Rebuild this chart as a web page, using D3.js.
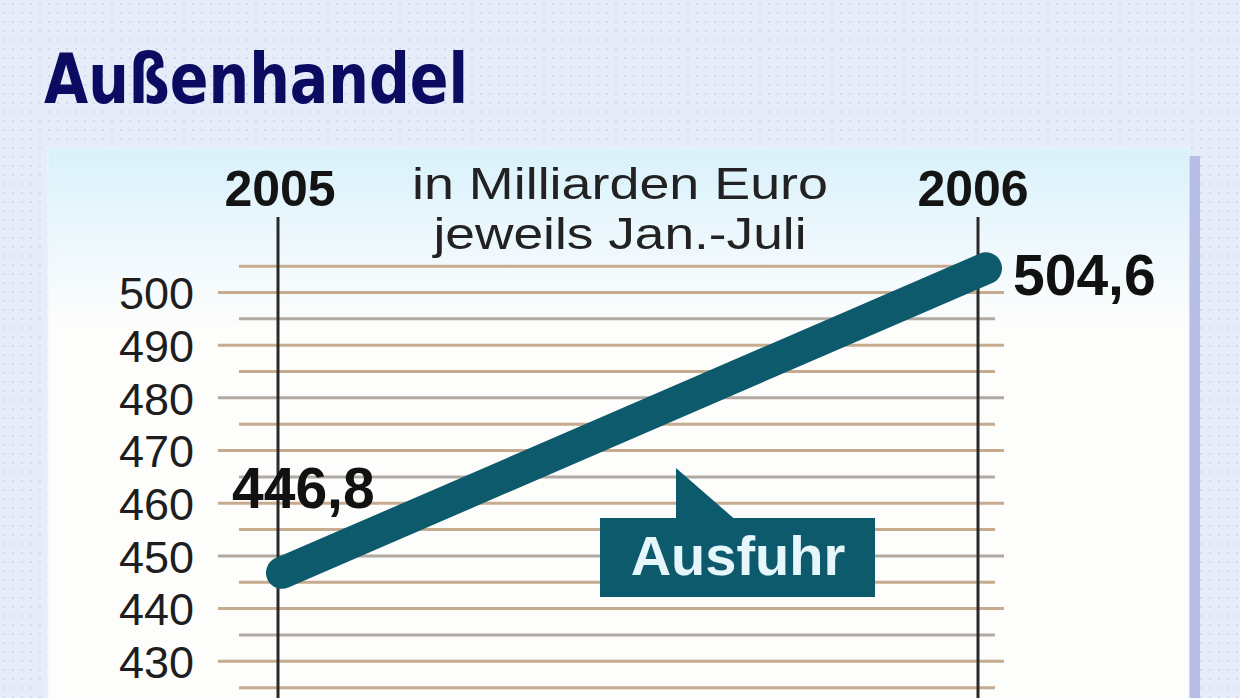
<!DOCTYPE html>
<html>
<head>
<meta charset="utf-8">
<script src="https://cdn.jsdelivr.net/npm/d3@7"></script>
<style>
 html, body { margin: 0; padding: 0; background: #e6ecf8; }
 svg { display: block; }
</style>
</head>
<body>
<script>

// data
var years      = ['2005', '2006']
var ausfuhr    = [446.8, 504.6]
var valueLabel = ['446,8', '504,6']
var tickValues = [500, 490, 480, 470, 460, 450, 440, 430]
var gridValues = [420, 425, 430, 435, 440, 445, 450, 455, 460, 465, 470, 475, 480, 485, 490, 495, 500, 505]
var title      = 'Außenhandel'
var subtitle   = ['in Milliarden Euro', 'jeweils Jan.-Juli']
var seriesName = 'Ausfuhr'

var width  = 1240
var height = 698
var teal   = '#0d5a6d'

var svg = d3.select('body').append('svg')
  .attr('width', width)
  .attr('height', height)

var defs = svg.append('defs')

// dotted background
var pat = defs.append('pattern')
  .attr('id', 'dots').attr('width', 9).attr('height', 9)
  .attr('patternUnits', 'userSpaceOnUse')
pat.append('rect').attr('width', 9).attr('height', 9).attr('fill', '#e6ecf8')
pat.append('rect').attr('x', 3).attr('y', 3).attr('width', 2).attr('height', 2).attr('fill', '#d3dbee')

var grad = defs.append('linearGradient')
  .attr('id', 'panel').attr('x1', 0).attr('y1', 0).attr('x2', 0).attr('y2', 1)
grad.append('stop').attr('offset', '0%').attr('stop-color', '#d9f1fb')
grad.append('stop').attr('offset', '22%').attr('stop-color', '#f3fafd')
grad.append('stop').attr('offset', '32%').attr('stop-color', '#fdfdfb')
grad.append('stop').attr('offset', '100%').attr('stop-color', '#fdfdfb')

svg.append('rect').attr('width', width).attr('height', height).attr('fill', 'url(#dots)')

// panel + right shadow
svg.append('rect').attr('x', 1188).attr('y', 156).attr('width', 12).attr('height', 560).attr('fill', '#b6bee6')
svg.append('rect').attr('x', 48).attr('y', 148).attr('width', 1141).attr('height', 560)
  .attr('fill', 'url(#panel)').attr('stroke', '#eef3fb').attr('stroke-width', 1)

// title
svg.append('text')
  .attr('x', 44).attr('y', 103)
  .attr('textLength', 424).attr('lengthAdjust', 'spacingAndGlyphs')
  .style('font-family', '"DejaVu Sans Condensed", "DejaVu Sans", sans-serif')
  .style('font-weight', 'bold').style('font-size', '70px')
  .style('fill', '#0b0b62')
  .text(title)

// scales
var x = d3.scalePoint().domain(years).range([278, 978])
var y = d3.scaleLinear().domain([440, 500]).range([608.6, 292.5])

// gridlines: labelled ones reach further left
var grid = svg.append('g')
grid.selectAll('line').data(gridValues).enter().append('line')
  .attr('x1', function(d) { return d % 10 == 0 ? 218 : 239 })
  .attr('x2', function(d) { return d % 10 == 0 ? 1004 : 995 })
  .attr('y1', function(d) { return y(d) })
  .attr('y2', function(d) { return y(d) })
  .attr('stroke', function(d, i) { return i % 3 == 0 ? '#b1aaa2' : '#c6ab8f' })
  .attr('stroke-width', 3)

// tick labels
var yAxis = d3.axisLeft(y).tickValues(tickValues).tickSize(0).tickPadding(0)
var ag = svg.append('g').attr('transform', 'translate(194,0)').call(yAxis)
ag.select('.domain').remove()
ag.selectAll('text')
  .attr('dy', '0.36em')
  .style('font-family', '"Liberation Sans", Arial, sans-serif')
  .style('font-size', '45px')
  .style('fill', '#1e1e1e')

// year verticals + labels
svg.selectAll('.yr').data(years).enter().append('line')
  .attr('class', 'yr')
  .attr('x1', function(d) { return x(d) }).attr('x2', function(d) { return x(d) })
  .attr('y1', 217).attr('y2', height)
  .attr('stroke', '#2a2a2a').attr('stroke-width', 3)

svg.selectAll('.yrlab').data(years).enter().append('text')
  .attr('class', 'yrlab')
  .attr('x', function(d, i) { return x(d) + (i == 0 ? 2 : -5) })
  .attr('y', 206)
  .attr('text-anchor', 'middle')
  .style('font-family', '"Liberation Sans", Arial, sans-serif')
  .style('font-weight', 'bold').style('font-size', '50px')
  .style('fill', '#141414')
  .text(function(d) { return d })

// subtitle, stretched a little to the reference's width
var subWidth = [416, 373]
svg.selectAll('.sub').data(subtitle).enter().append('text')
  .attr('class', 'sub')
  .attr('x', function(d, i) { return 620 - subWidth[i] / 2 + (i == 0 ? 0 : 0) })
  .attr('y', function(d, i) { return 199 + i * 50 })
  .attr('textLength', function(d, i) { return subWidth[i] })
  .attr('lengthAdjust', 'spacingAndGlyphs')
  .style('font-family', '"Liberation Sans", Arial, sans-serif')
  .style('font-size', '45px')
  .style('fill', '#222')
  .text(function(d) { return d })

// the series
var pts = years.map(function(d, i) { return [x(d) + (i == 0 ? 4 : 8), y(ausfuhr[i])] })
svg.append('path')
  .attr('d', d3.line()(pts))
  .attr('fill', 'none')
  .attr('stroke', teal)
  .attr('stroke-width', 32)
  .attr('stroke-linecap', 'round')

// value labels
svg.selectAll('.val').data(ausfuhr).enter().append('text')
  .attr('class', 'val')
  .attr('x', function(d, i) { return i == 0 ? x(years[i]) - 46 : x(years[i]) + 35 })
  .attr('y', function(d, i) { return i == 0 ? y(d) - 65 : y(d) + 27 })
  .style('font-family', '"Liberation Sans", Arial, sans-serif')
  .style('font-weight', 'bold').style('font-size', '57px')
  .style('fill', '#111')
  .text(function(d, i) { return valueLabel[i] })

// callout
var co = svg.append('g')
co.append('path')
  .attr('d', 'M676,468 L676,522 L738,522 Z')
  .attr('fill', teal)
co.append('rect')
  .attr('x', 600).attr('y', 518).attr('width', 275).attr('height', 79)
  .attr('fill', teal)
co.append('text')
  .attr('x', 738).attr('y', 575)
  .attr('text-anchor', 'middle')
  .style('font-family', '"Liberation Sans", Arial, sans-serif')
  .style('font-weight', 'bold').style('font-size', '56px')
  .style('fill', '#e6f7fb')
  .text(seriesName)

</script>
</body>
</html>
